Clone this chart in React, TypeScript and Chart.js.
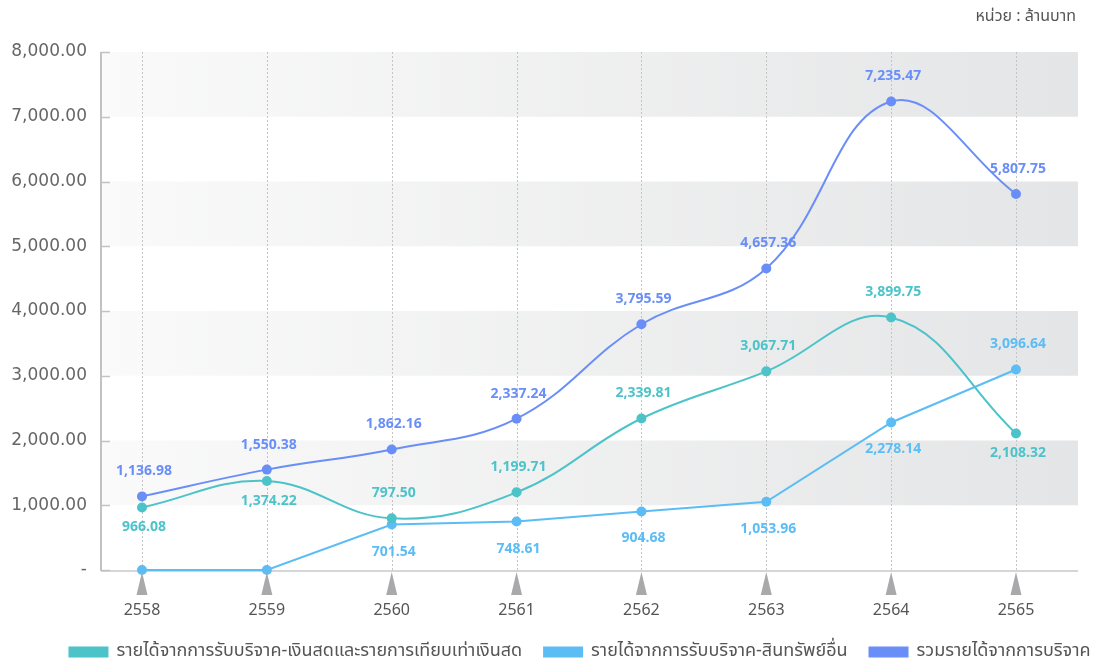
import React, { useEffect, useRef } from 'react';
import { Chart, registerables } from 'chart.js';

Chart.register(...registerables);

const years = [2558, 2559, 2560, 2561, 2562, 2563, 2564, 2565];
const cashDonations = [966.08, 1374.22, 797.5, 1199.71, 2339.81, 3067.71, 3899.75, 2108.32];
const assetDonations = [0, 0, 701.54, 748.61, 904.68, 1053.96, 2278.14, 3096.64];
const totalDonations = [1136.98, 1550.38, 1862.16, 2337.24, 3795.59, 4657.36, 7235.47, 5807.75];
const yTickValues = [0, 1000, 2000, 3000, 4000, 5000, 6000, 7000, 8000];

const seriesNames = [
  'รายได้จากการรับบริจาค-เงินสดและรายการเทียบเท่าเงินสด',
  'รายได้จากการรับบริจาค-สินทรัพย์อื่น',
  'รวมรายได้จากการบริจาค',
];
const unitText = 'หน่วย : ล้านบาท';

const cashLabelSide = ['below', 'below', 'above', 'above', 'above', 'above', 'above', 'below'];
const assetLabelSide = ['none', 'none', 'below', 'below', 'below', 'below', 'below', 'above'];
const totalLabelSide = ['above', 'above', 'above', 'above', 'above', 'above', 'above', 'above'];

const COLORS = ['#4cc3c9', '#5cbdf5', '#6a8ef8'];
const LABEL_FONT = 'bold 14px "Open Sans", "Noto Sans", sans-serif';
const THAI_FONT = '"Noto Sans Thai", "Noto Sans", "DejaVu Sans", sans-serif';

const fmt = (v: number) =>
  v.toLocaleString('en-US', { minimumFractionDigits: 2, maximumFractionDigits: 2 });

const seriesValues = [cashDonations, assetDonations, totalDonations];
const labelSides = [cashLabelSide, assetLabelSide, totalLabelSide];

const decorPlugin = {
  id: 'decor',
  afterLayout(chart: any) {
    const lg = chart.legend;
    if (lg) {
      lg.left += 41;
      lg.right += 41;
    }
  },
  beforeDraw(chart: any) {
    const { ctx, chartArea } = chart;
    const xs = chart.scales.x;
    const ys = chart.scales.y;
    const { left, right, top, bottom } = chartArea;
    ctx.save();
    for (let i = 1; i < yTickValues.length - 1; i += 2) {
      const y1 = ys.getPixelForValue(yTickValues[i + 1]);
      const y0 = ys.getPixelForValue(yTickValues[i]);
      const g = ctx.createLinearGradient(left, 0, right, 0);
      g.addColorStop(0, 'rgb(250,250,250)');
      g.addColorStop(1, 'rgb(228,229,230)');
      ctx.fillStyle = g;
      ctx.fillRect(left, y1, right - left, y0 - y1);
    }
    ctx.strokeStyle = '#c4c4c4';
    ctx.lineWidth = 1;
    ctx.setLineDash([2, 2]);
    years.forEach((yr) => {
      const x = Math.round(xs.getPixelForValue(yr)) + 0.5;
      ctx.beginPath();
      ctx.moveTo(x, top);
      ctx.lineTo(x, bottom);
      ctx.stroke();
    });
    ctx.setLineDash([]);
    ctx.strokeStyle = '#d6d6d6';
    ctx.lineWidth = 2;
    ctx.beginPath();
    ctx.moveTo(left, bottom + 1);
    ctx.lineTo(right, bottom + 1);
    ctx.stroke();
    ctx.strokeStyle = '#c2c2c2';
    ctx.beginPath();
    ctx.moveTo(left, top);
    ctx.lineTo(left, bottom + 1);
    ctx.stroke();
    ctx.lineWidth = 1.5;
    yTickValues.forEach((v) => {
      const y = Math.round(ys.getPixelForValue(v)) + 0.5;
      ctx.beginPath();
      ctx.moveTo(left, y);
      ctx.lineTo(left + 9, y);
      ctx.stroke();
    });
    ctx.fillStyle = '#555';
    ctx.font = '16px ' + THAI_FONT;
    ctx.textAlign = 'right';
    ctx.textBaseline = 'middle';
    ctx.fillText(unitText, 1076, 18);
    ctx.restore();
  },
  afterDraw(chart: any) {
    const { ctx, chartArea } = chart;
    const xs = chart.scales.x;
    ctx.save();
    ctx.fillStyle = '#a9a9ac';
    years.forEach((yr) => {
      const x = xs.getPixelForValue(yr);
      ctx.beginPath();
      ctx.moveTo(x, chartArea.bottom + 2);
      ctx.lineTo(x + 5.5, chartArea.bottom + 25);
      ctx.lineTo(x - 5.5, chartArea.bottom + 25);
      ctx.closePath();
      ctx.fill();
    });
    ctx.restore();
  },
  afterDatasetsDraw(chart: any) {
    const { ctx } = chart;
    ctx.save();
    ctx.font = LABEL_FONT;
    ctx.textAlign = 'center';
    ctx.textBaseline = 'middle';
    chart.data.datasets.forEach((_ds: any, di: number) => {
      const meta = chart.getDatasetMeta(di);
      meta.data.forEach((pt: any, i: number) => {
        const side = labelSides[di][i];
        if (side === 'none') return;
        ctx.fillStyle = COLORS[di];
        const dy = side === 'above' ? -25 : di === 1 ? 27 : 20;
        ctx.fillText(fmt(seriesValues[di][i]), pt.x + 2, pt.y + dy);
      });
    });
    ctx.restore();
  },
};

export default function App() {
  const canvasRef = useRef<HTMLCanvasElement | null>(null);

  useEffect(() => {
    document.body.style.margin = '0';
    const canvas = canvasRef.current;
    if (!canvas) return;
    const mk = (di: number, tension: number) => ({
      label: seriesNames[di],
      data: years.map((yr, i) => ({ x: yr, y: seriesValues[di][i] })),
      borderColor: COLORS[di],
      backgroundColor: COLORS[di],
      pointBackgroundColor: COLORS[di],
      pointBorderWidth: 0,
      pointRadius: 5,
      borderWidth: 2,
      tension,
      clip: false as any,
    });
    const chart = new Chart(canvas, {
      type: 'line',
      data: {
        datasets: [mk(0, 0.4), mk(1, 0), mk(2, 0.4)],
      },
      options: {
        animation: false,
        responsive: true,
        maintainAspectRatio: false,
        layout: { padding: { top: 52, right: 30, left: 0, bottom: -12 } },
        plugins: {
          legend: {
            position: 'bottom',
            labels: {
              boxWidth: 38,
              boxHeight: 9,
              padding: 22,
              color: '#555',
              font: { size: 18, family: THAI_FONT },
            },
          },
          tooltip: { enabled: false },
        },
        scales: {
          x: {
            type: 'linear',
            min: 2557.6716,
            max: 2565.4966,
            grid: { display: false, drawTicks: false },
            border: { display: false },
            afterBuildTicks: (scale: any) => {
              scale.ticks = years.map((v) => ({ value: v }));
            },
            afterFit: (scale: any) => {
              scale.height = 51;
              scale.paddingLeft = 0;
              scale.paddingRight = 0;
            },
            ticks: {
              padding: 31,
              color: '#555',
              font: { size: 16, family: '"Noto Sans", sans-serif' },
              callback: (v: any) => String(v),
              maxRotation: 0,
              autoSkip: false,
            },
          },
          y: {
            min: 0,
            max: 8000,
            grid: { display: false, drawTicks: false },
            border: { display: false },
            afterBuildTicks: (scale: any) => {
              scale.ticks = yTickValues.map((v) => ({ value: v }));
            },
            afterFit: (scale: any) => {
              scale.width = 101;
              scale.paddingTop = 0;
              scale.paddingBottom = 0;
            },
            ticks: {
              padding: 14,
              color: '#666',
              font: { size: 17, family: '"DejaVu Sans", sans-serif' },
              callback: (v: any) => (Number(v) === 0 ? '-' : fmt(Number(v))),
            },
          },
        },
      },
      plugins: [decorPlugin],
    });
    return () => chart.destroy();
  }, []);

  return (
    <div style={{ width: 1108, height: 659, position: 'relative' }}>
      <canvas ref={canvasRef} />
    </div>
  );
}
